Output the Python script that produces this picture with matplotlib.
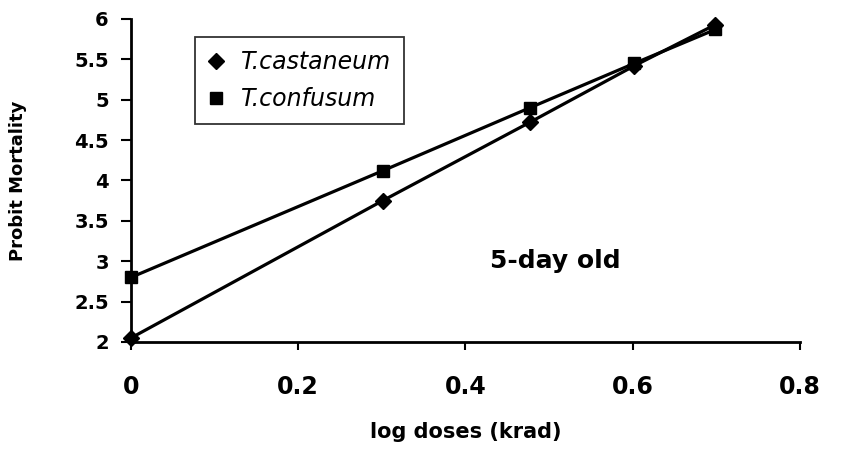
import matplotlib
matplotlib.use("Agg")
import matplotlib.pyplot as plt

plt.rcParams['font.family'] = ['DejaVu Sans']

log_dose = [0.0, 0.301, 0.477, 0.602, 0.699]
castaneum = [2.05, 3.75, 4.72, 5.42, 5.93]
confusum = [2.80, 4.12, 4.90, 5.45, 5.87]
xticks = [0, 0.2, 0.4, 0.6, 0.8]
xticklabels = ['0', '0.2', '0.4', '0.6', '0.8']
yticks = [2, 2.5, 3, 3.5, 4, 4.5, 5, 5.5, 6]
yticklabels = ['2', '2.5', '3', '3.5', '4', '4.5', '5', '5.5', '6']

fig = plt.figure(figsize=(8.42, 4.51), dpi=100)
ax = fig.add_axes([0.1556, 0.2417, 0.7944, 0.7163])

ax.plot(log_dose, castaneum, color='black', lw=2.3, marker='D', ms=8,
        label='T.castaneum', clip_on=False, zorder=3)
ax.plot(log_dose, confusum, color='black', lw=2.3, marker='s', ms=9,
        label='T.confusum', clip_on=False, zorder=3)

ax.set_xlim(0, 0.8)
ax.set_ylim(2, 6)
ax.set_xticks(xticks)
ax.set_xticklabels(xticklabels, fontsize=17, fontweight='bold')
ax.set_yticks(yticks)
ax.set_yticklabels(yticklabels, fontsize=14, fontweight='bold')
ax.tick_params(axis='x', direction='out', length=6, width=1.5, pad=18)
ax.tick_params(axis='y', direction='out', length=7, width=1.5, pad=9)
for s in ['top', 'right']:
    ax.spines[s].set_visible(False)
for s in ['left', 'bottom']:
    ax.spines[s].set_linewidth(2)

ax.set_xlabel('log doses (krad)', fontsize=15, fontweight='bold', labelpad=16)
ax.set_ylabel('Probit Mortality', fontsize=13, fontweight='bold', labelpad=34)

ax.text(0.507, 3.0, '5-day old', fontsize=18, fontweight='bold',
        ha='center', va='center')

leg = ax.legend(loc='upper left', bbox_to_anchor=(0.096, 0.944),
                frameon=True, fancybox=False, edgecolor='black',
                prop={'style': 'italic', 'size': 17}, handlelength=0.7,
                handletextpad=0.7, borderpad=0.55, labelspacing=0.55,
                borderaxespad=0)
leg.get_frame().set_linewidth(1.3)
for h in leg.legend_handles:
    h.set_linestyle('none')
    h.set_markersize(8)

fig.savefig('out.png', dpi=100)
